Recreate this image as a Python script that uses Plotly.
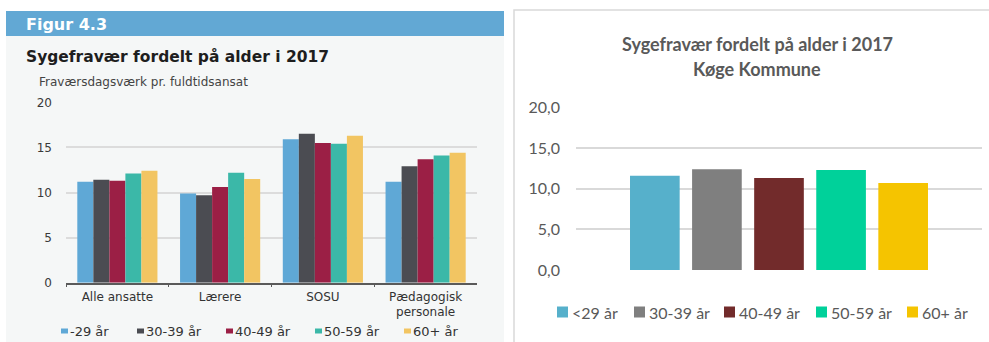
import plotly.graph_objects as go

# --- data -------------------------------------------------------------
groups_dk = ["Alle ansatte", "Lærere", "SOSU", "Pædagogisk<br>personale"]
age_labels_dk = ["-29 år", "30-39 år", "40-49 år", "50-59 år", "60+ år"]
values_dk = [
    [11.2, 9.9, 15.9, 11.2],   # -29 år
    [11.4, 9.7, 16.5, 12.9],   # 30-39 år
    [11.3, 10.6, 15.5, 13.7],  # 40-49 år
    [12.1, 12.2, 15.4, 14.1],  # 50-59 år
    [12.4, 11.5, 16.3, 14.4],  # 60+ år
]
colors_dk = ["#5fa8d6", "#4b4c52", "#9b1f45", "#3bb8a8", "#f2c562"]

age_labels_koege = ["<29 år", "30-39 år", "40-49 år", "50-59 år", "60+ år"]
values_koege = [11.6, 12.4, 11.3, 12.3, 10.7]
colors_koege = ["#56b0cb", "#7f7f7f", "#722b2b", "#00d19a", "#f5c400"]

y_ticks = [0, 5, 10, 15, 20]

# --- page geometry (pixels) ------------------------------------------
W, H = 989, 342
legend_dk_x = [61, 137, 226, 315, 404]     # left edge of each key square
legend_dk_y = 331
legend_koege_x = [557, 634, 724, 816, 907]
legend_koege_y = 312


def px(x):
    return x / W


def py(y):
    return 1 - y / H


left_font = "DejaVu Sans, Arial, sans-serif"
right_font = "Lato, Open Sans, sans-serif"

fig = go.Figure()

# left panel: national figures by staff group
for name, vals, col in zip(age_labels_dk, values_dk, colors_dk):
    fig.add_trace(go.Bar(
        x=groups_dk, y=vals, name=name, marker_color=col,
        marker_line_width=0, xaxis="x", yaxis="y", showlegend=False,
    ))

# right panel: Køge Kommune, one bar per age band
for name, val, col in zip(age_labels_koege, values_koege, colors_koege):
    fig.add_trace(go.Bar(
        x=[name], y=[val], name=name, marker_color=col,
        marker_line_width=0, xaxis="x2", yaxis="y2", showlegend=False,
        offsetgroup="koege", width=0.8,
    ))

fig.update_layout(
    width=W, height=H, autosize=False,
    margin=dict(l=0, r=0, t=0, b=0, pad=0, autoexpand=False),
    paper_bgcolor="white", plot_bgcolor="rgba(0,0,0,0)",
    barmode="group", bargap=0.22, bargroupgap=0,
    separators=",.",
    showlegend=False,
    xaxis=dict(
        domain=[px(66), px(477)], anchor="y", automargin=False,
        showline=True, linecolor="#5a5a5a", linewidth=1.5,
        ticks="outside", tickson="boundaries", ticklen=3, tickcolor="#5a5a5a",
        tickfont=dict(family=left_font, size=12, color="#333333"),
        showgrid=False, ticklabelstandoff=2,
    ),
    yaxis=dict(
        domain=[py(282.7), py(102.3)], anchor="x", automargin=False,
        range=[0, 20], tickvals=y_ticks,
        showgrid=True, gridcolor="#dcdcdc", gridwidth=1.5,
        zeroline=False, showline=False, ticks="",
        tickfont=dict(family=left_font, size=12, color="#3a3a3a"),
        ticklabelstandoff=13,
    ),
    xaxis2=dict(
        domain=[px(576), px(982)], anchor="y2", automargin=False,
        range=[-1.27, 5.27], visible=False,
    ),
    yaxis2=dict(
        domain=[py(270), py(107.3)], anchor="x2", automargin=False,
        range=[0, 20], tickvals=y_ticks, tickformat=".1f",
        showgrid=True, gridcolor="#d9d9d9", gridwidth=1.5,
        zeroline=False, showline=False, ticks="",
        tickfont=dict(family=right_font, size=16, color="#595959"),
        ticklabelstandoff=15,
    ),
)

# panel backgrounds and frame
fig.add_shape(type="rect", xref="paper", yref="paper", layer="below",
              x0=px(6), x1=px(504), y0=py(342), y1=py(36),
              fillcolor="#f5f7f7", line_width=0)
fig.add_shape(type="rect", xref="paper", yref="paper", layer="below",
              x0=px(6), x1=px(504), y0=py(36), y1=py(11),
              fillcolor="#62a8d4", line_width=0)
fig.add_shape(type="rect", xref="paper", yref="paper", layer="below",
              x0=px(514), x1=px(995), y0=py(352), y1=py(10),
              fillcolor="rgba(0,0,0,0)", line=dict(color="#d9d9d9", width=1.5))

# titles
fig.add_annotation(text="<b>Figur 4.3</b>", xref="paper", yref="paper",
                   x=px(24), y=py(24), xanchor="left", yanchor="middle",
                   showarrow=False, font=dict(family=left_font, size=16, color="white"))
fig.add_annotation(text="<b>Sygefravær fordelt på alder i 2017</b>", xref="paper", yref="paper",
                   x=px(24), y=py(57), xanchor="left", yanchor="middle",
                   showarrow=False, font=dict(family=left_font, size=15.5, color="#1e1e1e"))
fig.add_annotation(text="Fraværsdagsværk pr. fuldtidsansat", xref="paper", yref="paper",
                   x=px(37), y=py(82), xanchor="left", yanchor="middle",
                   showarrow=False, font=dict(family=left_font, size=12, color="#444444"))
fig.add_annotation(text="<b>Sygefravær fordelt på alder i 2017</b>", xref="paper", yref="paper",
                   x=px(757), y=py(44), xanchor="center", yanchor="middle",
                   showarrow=False, font=dict(family=right_font, size=18, color="#595959"))
fig.add_annotation(text="<b>Køge Kommune</b>", xref="paper", yref="paper",
                   x=px(757), y=py(69), xanchor="center", yanchor="middle",
                   showarrow=False, font=dict(family=right_font, size=18, color="#595959"))


# colour keys under each panel
def add_key(labels, colors, xs, yc, sq_w, sq_h, gap, font):
    for label, col, x0 in zip(labels, colors, xs):
        fig.add_shape(type="rect", xref="paper", yref="paper",
                      x0=px(x0), x1=px(x0 + sq_w),
                      y0=py(yc + sq_h / 2), y1=py(yc - sq_h / 2),
                      fillcolor=col, line_width=0)
        fig.add_annotation(text=label, xref="paper", yref="paper",
                           x=px(x0 + sq_w + gap), y=py(yc),
                           xanchor="left", yanchor="middle", showarrow=False,
                           font=font)


add_key(age_labels_dk, colors_dk, legend_dk_x, legend_dk_y, 7, 5, 0,
        dict(family=left_font, size=13, color="#333333"))
add_key(age_labels_koege, colors_koege, legend_koege_x, legend_koege_y, 11, 11, 2,
        dict(family=right_font, size=16, color="#595959"))

fig.write_html("out.html")
